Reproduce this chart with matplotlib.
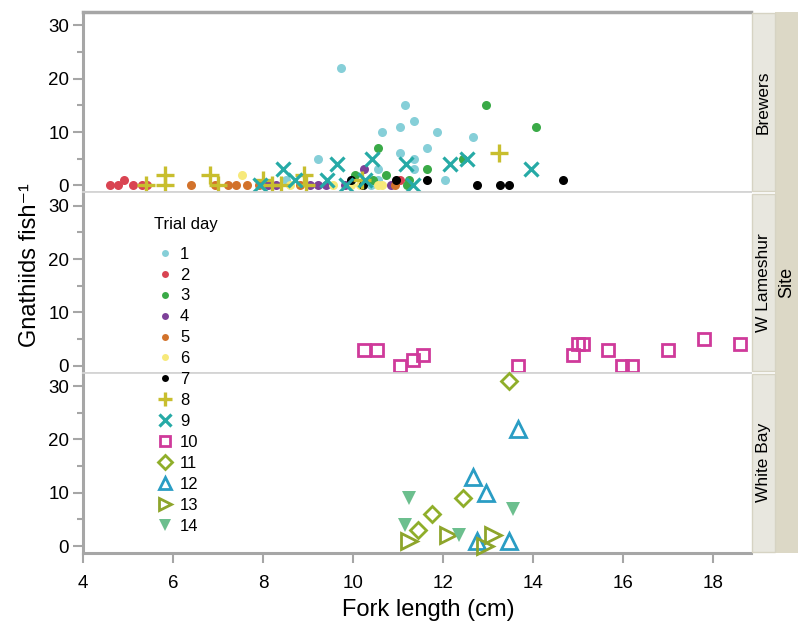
import matplotlib.pyplot as plt
from matplotlib.lines import Line2D
from matplotlib.patches import Rectangle

plt.rcParams['font.family'] = ['Liberation Sans', 'DejaVu Sans']

# panels (facet rows) and which panel each trial day belongs to
sites = ['Brewers', 'W Lameshur', 'White Bay']
day_labels = [str(d) for d in range(1, 15)]
day_site = [0, 0, 0, 0, 0, 0, 0, 0, 0, 1, 2, 2, 2, 2]

# fork length (cm) and gnathiids per fish, by trial day
day1_len = [8.52, 9.23, 9.74, 10.41, 10.55, 10.55, 10.65, 11.05, 11.05, 11.16, 11.36, 11.36, 11.36, 11.65, 11.86, 12.05, 12.66]
day1_cnt = [1, 5, 22, 0, 3, 1, 10, 11, 6, 15, 12, 5, 3, 7, 10, 1, 9]
day2_len = [4.6, 4.78, 4.91, 5.1, 5.3, 5.42, 11.04]
day2_cnt = [0, 0, 1, 0, 0, 0, 1]
day3_len = [10.04, 10.44, 10.55, 10.74, 11.2, 11.25, 11.65, 12.44, 12.96, 14.07]
day3_cnt = [2, 1, 7, 2, 0, 1, 3, 5, 15, 11]
day4_len = [8.1, 8.28, 9.04, 9.22, 9.41, 9.82, 10.24, 10.85]
day4_cnt = [0, 0, 0, 0, 0, 0, 3, 0]
day5_len = [6.4, 6.93, 7.23, 7.4, 7.64, 7.9, 8.82, 10.93]
day5_cnt = [0, 0, 0, 0, 0, 0, 0, 0]
day6_len = [7.53, 8.6, 9.55, 9.95, 10.15, 10.55, 10.65]
day6_cnt = [2, 0, 0, 0, 0, 0, 0]
day7_len = [9.95, 10.22, 10.95, 11.65, 12.76, 13.27, 13.47, 14.67]
day7_cnt = [1, 0, 1, 1, 0, 0, 0, 1]
day8_len = [5.4, 5.82, 5.82, 6.82, 7.0, 8.0, 8.2, 8.4, 8.9, 8.95, 10.2, 13.25]
day8_cnt = [0, 0, 2, 2, 0, 1, 0, 0, 2, 0, 1, 6]
day9_len = [7.93, 8.45, 8.72, 9.42, 9.64, 9.84, 10.27, 10.43, 11.17, 11.34, 12.16, 12.54, 13.96]
day9_cnt = [0, 3, 1, 1, 4, 0, 1, 5, 4, 0, 4, 5, 3]
day10_len = [10.24, 10.53, 11.04, 11.33, 11.56, 13.67, 14.89, 15.0, 15.11, 15.67, 15.98, 16.2, 17.0, 17.8, 18.6]
day10_cnt = [3, 3, 0, 1, 2, 0, 2, 4, 4, 3, 0, 0, 3, 5, 4]
day11_len = [11.45, 11.75, 12.45, 13.47]
day11_cnt = [3, 6, 9, 31]
day12_len = [12.66, 12.76, 12.96, 13.47, 13.67]
day12_cnt = [13, 1, 10, 1, 22]
day13_len = [11.25, 12.12, 12.93, 13.12]
day13_cnt = [1, 2, 0, 2]
day14_len = [11.16, 11.25, 12.36, 13.56]
day14_cnt = [4, 9, 2, 7]

lengths = [day1_len, day2_len, day3_len, day4_len, day5_len, day6_len, day7_len,
           day8_len, day9_len, day10_len, day11_len, day12_len, day13_len, day14_len]
counts = [day1_cnt, day2_cnt, day3_cnt, day4_cnt, day5_cnt, day6_cnt, day7_cnt,
          day8_cnt, day9_cnt, day10_cnt, day11_cnt, day12_cnt, day13_cnt, day14_cnt]

# style per day: marker, colour, size, filled, edge width
styles = [
    ('o', '#86cfd8', 6.5, True, 0),
    ('o', '#d94452', 6.5, True, 0),
    ('o', '#3aaa47', 6.5, True, 0),
    ('o', '#7d4199', 6.5, True, 0),
    ('o', '#d2722b', 6.5, True, 0),
    ('o', '#f7e97a', 6.5, True, 0),
    ('o', '#000000', 6.5, True, 0),
    ('+', '#c8be2e', 12.5, True, 2.4),
    ('x', '#26aaa6', 9.5, True, 2.3),
    ('s', '#cf3a9a', 9, False, 2.0),
    ('D', '#8fae2a', 8.5, False, 2.0),
    ('^', '#2a9dc4', 11, False, 2.0),
    ('>', '#8ea52b', 11, False, 2.0),
    ('v', '#6cbf8e', 9.5, True, 0),
]

fig = plt.figure(figsize=(7.98, 6.27), dpi=100)

left, width = 0.104, 0.837
panel_top, panel_bot = 1 - 12 / 627, 1 - 553 / 627
ph = (panel_top - panel_bot) / 3
axes = []
for i in range(3):
    ax = fig.add_axes([left, panel_top - (i + 1) * ph, width, ph])
    axes.append(ax)

spine_col = '#a6a6a6'
sep_col = '#d4d4d4'
for i, ax in enumerate(axes):
    ax.set_xlim(4, 18.84)
    ax.set_ylim(-1.3, 32.5)
    ax.set_yticks([0, 10, 20, 30])
    ax.set_yticks([5, 15, 25], minor=True)
    ax.set_xticks([4, 6, 8, 10, 12, 14, 16, 18])
    ax.tick_params(axis='y', which='major', length=7, width=1.5, color=spine_col,
                   labelsize=13.5, pad=3)
    ax.tick_params(axis='y', which='minor', length=4, width=1.5, color=spine_col)
    ax.spines['right'].set_visible(False)
    ax.spines['left'].set_color(spine_col)
    ax.spines['left'].set_linewidth(2.2)
    ax.spines['top'].set_color(sep_col if i > 0 else spine_col)
    ax.spines['top'].set_linewidth(1.3 if i > 0 else 2.5)
    if i < 2:
        ax.spines['bottom'].set_color(sep_col)
        ax.spines['bottom'].set_linewidth(1.3)
        ax.tick_params(axis='x', which='both', bottom=False, labelbottom=False)
    else:
        ax.spines['bottom'].set_color(spine_col)
        ax.spines['bottom'].set_linewidth(2.2)
        ax.tick_params(axis='x', length=7, width=1.5, color=spine_col,
                       labelsize=13.5, pad=9)

for d in range(14):
    m, c, ms, filled, mew = styles[d]
    ax = axes[day_site[d]]
    ax.plot(lengths[d], counts[d], linestyle='none', marker=m, markersize=ms,
            markerfacecolor=c if filled else 'none', markeredgecolor=c,
            markeredgewidth=mew, clip_on=False, zorder=3 + d * 0.01)

# axis titles are centred over the whole frame (panels + strips)
fig.text(428 / 798, 1 - 610 / 627, 'Fork length (cm)', fontsize=17,
         ha='center', va='center')
fig.text(0.038, 1 - 265 / 627, 'Gnathiids fish\u207b\u00b9', rotation=90,
         fontsize=17, ha='center', va='center')

# facet strips on the right
inner_l, inner_w = 752 / 798, 23 / 798
outer_l = 775 / 798
fig.patches.append(Rectangle((outer_l, panel_bot), 1 - outer_l, panel_top - panel_bot,
                             transform=fig.transFigure, facecolor='#dcd8c6',
                             edgecolor='none', zorder=0))
fig.text(outer_l + (1 - outer_l) / 2, (panel_top + panel_bot) / 2, 'Site',
         rotation=90, ha='center', va='center', fontsize=13)
for i, s in enumerate(sites):
    b = panel_top - (i + 1) * ph
    fig.patches.append(Rectangle((inner_l, b + 0.002), inner_w, ph - 0.004,
                                 transform=fig.transFigure, facecolor='#e8e7df',
                                 edgecolor='#d6d3c3', linewidth=1, zorder=1))
    fig.text(inner_l + inner_w / 2, b + ph / 2, s, rotation=90, ha='center',
             va='center', fontsize=12.5)

# legend
handles = []
for d in range(14):
    m, c, ms, filled, mew = styles[d]
    lms = 5 if m == 'o' else ms * 0.85
    handles.append(Line2D([], [], linestyle='none', marker=m, markersize=lms,
                          markerfacecolor=c if filled else 'none',
                          markeredgecolor=c, markeredgewidth=mew))
fig.text(154 / 798, 1 - 225 / 627, 'Trial day', fontsize=12, ha='left', va='center')
fig.legend(handles, day_labels, loc='upper left',
           bbox_to_anchor=(150 / 798, 1 - 240 / 627), frameon=False,
           fontsize=12, labelspacing=0.355, handletextpad=0.4,
           handlelength=1.0, borderaxespad=0)

fig.savefig('out.png', dpi=100)
